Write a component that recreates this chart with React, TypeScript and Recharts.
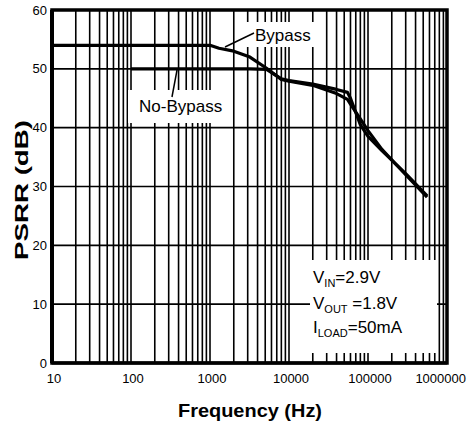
import React from "react";
import {
  LineChart,
  Line,
  XAxis,
  YAxis,
  CartesianGrid,
  ReferenceArea,
} from "recharts";

// frequency points (Hz)
const freq = [10, 100, 1000, 1300, 2000, 3200, 5200, 8000, 10000, 20000, 40000, 55000, 60000, 80000, 100000, 150000, 300000, 560000];
const bypass = [54, 54, 54, 53.5, 53.0, 52.0, 50.1, 48.2, 47.9, 47.2, 45.8, 44.8, 44.0, 41.5, 39.5, 36.3, 32.0, 28.2];
const noBypass = [null, 50, 50, 50, 50, 50, 49.9, 48.3, 48.0, 47.4, 46.5, 46.0, 45.0, 40.5, 38.5, 36.1, 32.2, 28.4];

const decades = [10, 100, 1000, 10000, 100000, 1000000];
const yTicks = [0, 10, 20, 30, 40, 50, 60];

const gridTicks = decades.flatMap((d) =>
  d === 1000000 ? [d] : [1, 2, 3, 4, 5, 6, 7, 8, 9].map((m) => m * d)
);

const chartData = freq.map((f, i) => ({
  f,
  bypass: bypass[i],
  noBypass: noBypass[i],
}));

const font = "'Liberation Sans', Arial, sans-serif";

// decade labels only; the last one is pulled in so it stays on the page
function FreqTick(props: any) {
  const { x, y, payload } = props;
  const v = payload.value;
  if (!decades.includes(v)) return null;
  const last = v === decades[decades.length - 1];
  return (
    <text
      x={last ? 466 : x + 2}
      y={y}
      dy="0.71em"
      textAnchor={last ? "end" : "middle"}
      fontSize={13}
      fill="#000"
      fontFamily={font}
    >
      {String(v)}
    </text>
  );
}

export default function App() {
  return (
    <div style={{ position: "absolute", left: 0, top: 0, width: 467, height: 421, background: "#fff" }}>
      <LineChart
        width={467}
        height={421}
        data={chartData}
        margin={{ top: 10, right: 20, bottom: 0, left: 0 }}
        style={{ fontFamily: font }}
      >
        <CartesianGrid stroke="#000" strokeWidth={1.6} />
        <XAxis
          dataKey="f"
          type="number"
          scale="log"
          domain={[10, 1000000]}
          ticks={gridTicks}
          interval={0}
          allowDataOverflow
          height={58}
          axisLine={{ stroke: "#000", strokeWidth: 3 }}
          tickLine={false}
          tickSize={8}
          tickMargin={3}
          tick={<FreqTick />}
        />
        <YAxis
          type="number"
          domain={[0, 60]}
          ticks={yTicks}
          interval={0}
          width={52}
          axisLine={{ stroke: "#000", strokeWidth: 4 }}
          tickLine={false}
          tickSize={5}
          tickMargin={0}
          tick={{ fill: "#000", fontSize: 13, fontFamily: font }}
        />
        <Line
          dataKey="bypass"
          stroke="#000"
          strokeWidth={3.2}
          dot={false}
          type="linear"
          isAnimationActive={false}
          strokeLinejoin="round"
        />
        <Line
          dataKey="noBypass"
          stroke="#000"
          strokeWidth={3.2}
          dot={false}
          type="linear"
          connectNulls={false}
          isAnimationActive={false}
          strokeLinejoin="round"
        />
        <ReferenceArea
          x1={10}
          x2={1000000}
          y1={0}
          y2={60}
          fill="#fff"
          fillOpacity={0}
          stroke="#000"
          strokeWidth={3.5}
          ifOverflow="visible"
        />
      </LineChart>

      {/* labels, leader lines and the conditions box */}
      <svg
        width={467}
        height={421}
        style={{ position: "absolute", left: 0, top: 0, pointerEvents: "none", fontFamily: font }}
      >
        <rect x={245} y={22} width={75} height={25} fill="#fff" />
        <text x={255} y={41} fontSize={17} fill="#000">Bypass</text>
        <line x1={225} y1={47} x2={254} y2={33} stroke="#000" strokeWidth={1.5} />

        <rect x={128} y={90} width={104} height={33} fill="#fff" />
        <text x={139} y={112} fontSize={17} fill="#000">No-Bypass</text>
        <line x1={177} y1={70} x2={172} y2={97} stroke="#000" strokeWidth={1.5} />

        <rect x={310} y={260} width={127} height={93} fill="#fff" />
        <text x={313} y={283} fontSize={17} fill="#000">
          V<tspan fontSize={11} dy={4}>IN</tspan>
          <tspan dy={-4}>=2.9V</tspan>
        </text>
        <text x={313} y={309} fontSize={17} fill="#000">
          V<tspan fontSize={11} dy={4}>OUT</tspan>
          <tspan dy={-4}> =1.8V</tspan>
        </text>
        <text x={313} y={333} fontSize={17} fill="#000">
          I<tspan fontSize={11} dy={4}>LOAD</tspan>
          <tspan dy={-4}>=50mA</tspan>
        </text>

        <text
          x={250}
          y={417}
          fontSize={19}
          fontWeight="bold"
          textAnchor="middle"
          fill="#000"
          textLength={144}
          lengthAdjust="spacingAndGlyphs"
        >
          Frequency (Hz)
        </text>
        <text
          x={0}
          y={0}
          transform="translate(28,190) rotate(-90)"
          fontSize={19}
          fontWeight="bold"
          textAnchor="middle"
          fill="#000"
          textLength={140}
          lengthAdjust="spacingAndGlyphs"
        >
          PSRR (dB)
        </text>
      </svg>
    </div>
  );
}
